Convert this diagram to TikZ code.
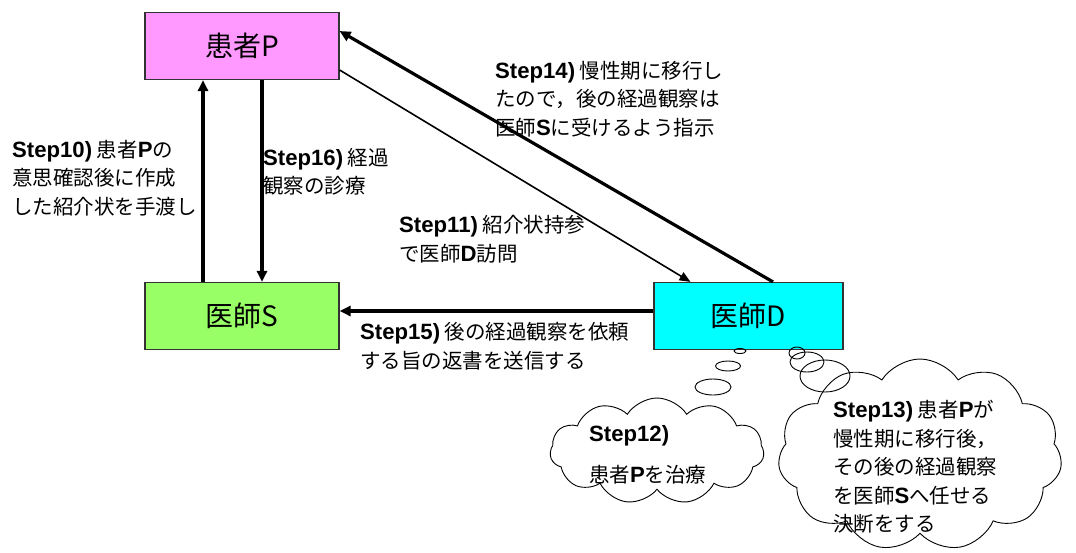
\documentclass[tikz,border=0pt]{standalone}
\usepackage{fontspec}
\setmainfont{Noto Sans CJK JP}
\newfontfamily\latf{Liberation Sans}[Scale=1.08]
\newcommand\stp[1]{{\latf\bfseries #1}}
\usetikzlibrary{arrows.meta,shapes.symbols,shapes.geometric}
\definecolor{pcol}{HTML}{FF99FF}
\definecolor{scol}{HTML}{99FF66}
\definecolor{dcol}{HTML}{00FFFF}
\tikzset{
  actor/.style={draw=black!80, line width=1.2pt, minimum width=194pt, minimum height=67pt, inner sep=0pt, font=\fontsize{28}{32}\selectfont},
  thickarrow/.style={line width=3.2pt, -{Triangle[length=11pt,width=10pt]}},
  thinarrow/.style={line width=1.6pt, -{Triangle[length=11pt,width=9pt]}},
  lbl/.style={anchor=west, align=left, inner sep=0pt, font=\fontsize{20.5}{28.5}\selectfont},
  thought/.style={cloud, draw, line width=0.9pt, cloud puffs=11, cloud puff arc=115, inner sep=0pt},
  bub/.style={ellipse, draw, line width=0.9pt, inner sep=0pt}
}
\begin{document}
\begin{tikzpicture}[x=1pt,y=-1pt]
\useasboundingbox (0,0) rectangle (1076,552);
\node[actor, fill=pcol] (P) at (242,46) {患者P};
\node[actor, fill=scol] (S) at (242,316) {医師S};
\node[actor, fill=dcol, minimum width=189pt] (D) at (748.5,316) {医師D};

\draw[thickarrow] ([xshift=-39pt]S.north) -- ([xshift=-39pt]P.south);
\draw[thickarrow] ([xshift=20pt]P.south) -- ([xshift=20pt]S.north);
\draw[thickarrow] ([xshift=24.5pt]D.north) -- ([yshift=15pt]P.east);
\draw[thinarrow] ([yshift=-24pt]P.east) -- ([xshift=-58pt]D.north);
\draw[thickarrow] ([yshift=5pt]D.west) -- ([yshift=5pt]S.east);

\node[lbl] (l10) at (12,178) {\stp{Step10)} 患者\stp{P}の\\意思確認後に作成\\した紹介状を手渡し};
\node[lbl] (l16) at (263,171.5) {\stp{Step16)} 経過\\観察の診療};
\node[lbl] (l14) at (495,99) {\stp{Step14)} 慢性期に移行し\\たので，後の経過観察は\\医師\stp{S}に受けるよう指示};
\node[lbl] (l11) at (399,239) {\stp{Step11)} 紹介状持参\\で医師\stp{D}訪問};
\node[lbl] (l15) at (360,346) {\stp{Step15)} 後の経過観察を依頼\\する旨の返書を送信する};

\node[bub, minimum width=12pt, minimum height=5pt] (b1) at (740,351) {};
\node[bub, minimum width=25pt, minimum height=10pt] (b2) at (728,366) {};
\node[bub, minimum width=36pt, minimum height=16pt] (b3) at (713,387) {};
\node[bub, minimum width=16pt, minimum height=12pt] (b4) at (797,353) {};
\node[bub, minimum width=34pt, minimum height=20pt] (b5) at (807,362) {};
\node[bub, minimum width=50pt, minimum height=32pt] (b6) at (825,376) {};

\node[thought, aspect=2.0, minimum width=214pt, minimum height=106pt] (c12) at (657,451) {};
\node[thought, aspect=1.5, minimum width=284pt, minimum height=192pt] (c13) at (920,455) {};

\node[lbl] (t12) at (589,455) {\stp{Step12)}\\[12pt]患者\stp{P}を治療};
\node[lbl] (t13) at (833,467) {\stp{Step13)} 患者\stp{P}が\\慢性期に移行後，\\その後の経過観察\\を医師\stp{S}へ任せる\\決断をする};
\end{tikzpicture}
\end{document}
